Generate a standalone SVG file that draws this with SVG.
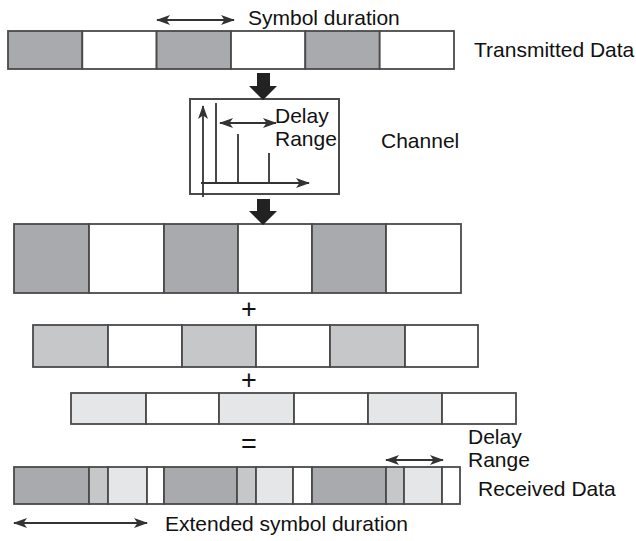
<svg xmlns="http://www.w3.org/2000/svg" width="636" height="541" viewBox="0 0 636 541">
<style>
text{font-family:"Liberation Sans",Arial,sans-serif;font-size:21px;fill:#111}
.op{font-size:27px}
.c{stroke:#4a4a4a;stroke-width:1.8}
.d{fill:#a9aaad}
.m{fill:#c6c7c9}
.l{fill:#e5e6e7}
.w{fill:#fff}
.ln{stroke:#333;stroke-width:1.8;fill:none}
.blk{fill:#222}
</style>
<defs>
<marker id="ah" viewBox="0 0 14 10" refX="13" refY="5" markerWidth="14" markerHeight="10" markerUnits="userSpaceOnUse" orient="auto-start-reverse">
<path d="M0,0 L14,5 L0,10 L3.5,5 z" fill="#333"/>
</marker>
</defs>
<rect width="636" height="541" fill="#fff"/>

<g id="transmitted">
<rect class="c d" x="8" y="31" width="74.3" height="38"/>
<rect class="c w" x="82.3" y="31" width="74.3" height="38"/>
<rect class="c d" x="156.6" y="31" width="74.4" height="38"/>
<rect class="c w" x="231" y="31" width="74.3" height="38"/>
<rect class="c d" x="305.3" y="31" width="74.4" height="38"/>
<rect class="c w" x="379.7" y="31" width="74.3" height="38"/>
<text x="474" y="57">Transmitted Data</text>
</g>

<g id="symbol-duration">
<text x="248" y="25">Symbol duration</text>
</g>

<g id="channel">
<rect x="190" y="99" width="149" height="95" fill="#fff" stroke="#4a4a4a" stroke-width="2"/>
<line class="ln" x1="203" y1="197" x2="203" y2="106" marker-end="url(#ah)"/>
<line class="ln" x1="201" y1="183" x2="309" y2="183" marker-end="url(#ah)"/>
<line class="ln" x1="216" y1="103" x2="216" y2="183"/>
<line class="ln" x1="238" y1="134" x2="238" y2="183"/>
<line class="ln" x1="269" y1="153" x2="269" y2="183"/>
<line class="ln" x1="220" y1="123" x2="276" y2="123" marker-start="url(#ah)" marker-end="url(#ah)"/>
<text x="275" y="123">Delay</text>
<text x="275" y="146">Range</text>
<text x="381" y="148">Channel</text>
</g>

<g id="received-1">
<rect class="c d" x="14" y="224" width="75" height="69"/>
<rect class="c w" x="89" y="224" width="75" height="69"/>
<rect class="c d" x="164" y="224" width="74" height="69"/>
<rect class="c w" x="238" y="224" width="74" height="69"/>
<rect class="c d" x="312" y="224" width="74" height="69"/>
<rect class="c w" x="386" y="224" width="75" height="69"/>
</g>

<g id="plus-1"><text class="op" x="249" y="318" text-anchor="middle">+</text></g>

<g id="received-2">
<rect class="c m" x="33" y="325" width="75" height="42"/>
<rect class="c w" x="108" y="325" width="74" height="42"/>
<rect class="c m" x="182" y="325" width="74" height="42"/>
<rect class="c w" x="256" y="325" width="74" height="42"/>
<rect class="c m" x="330" y="325" width="75" height="42"/>
<rect class="c w" x="405" y="325" width="73" height="42"/>
</g>

<g id="plus-2"><text class="op" x="249" y="389" text-anchor="middle">+</text></g>

<g id="received-3">
<rect class="c l" x="71" y="393" width="75" height="31"/>
<rect class="c w" x="146" y="393" width="73" height="31"/>
<rect class="c l" x="219" y="393" width="75" height="31"/>
<rect class="c w" x="294" y="393" width="74" height="31"/>
<rect class="c l" x="368" y="393" width="74" height="31"/>
<rect class="c w" x="442" y="393" width="74" height="31"/>
</g>

<g id="equals"><text class="op" x="249" y="453" text-anchor="middle">=</text></g>

<g id="delay-range-label">
<text x="468" y="444">Delay</text>
<text x="468" y="467">Range</text>
</g>

<g id="received-sum">
<rect class="c d" x="14" y="467" width="75" height="37"/>
<rect class="c m" x="89" y="467" width="19" height="37"/>
<rect class="c l" x="108" y="467" width="39" height="37"/>
<rect class="c w" x="147" y="467" width="17" height="37"/>
<rect class="c d" x="164" y="467" width="73" height="37"/>
<rect class="c m" x="237" y="467" width="19" height="37"/>
<rect class="c l" x="256" y="467" width="37" height="37"/>
<rect class="c w" x="293" y="467" width="19" height="37"/>
<rect class="c d" x="312" y="467" width="74" height="37"/>
<rect class="c m" x="386" y="467" width="18" height="37"/>
<rect class="c l" x="404" y="467" width="38" height="37"/>
<rect class="c w" x="442" y="467" width="18" height="37"/>
<text x="478" y="496">Received Data</text>
</g>

<g id="extended">
<text x="165" y="531">Extended symbol duration</text>
</g>

<g id="connectors">
<line class="ln" x1="157" y1="20" x2="234" y2="20" marker-start="url(#ah)" marker-end="url(#ah)"/>
<path class="blk" d="M257,73 H270 V86 H277 L263,100 L249,86 H257 Z"/>
<path class="blk" d="M257,199 H270 V211 H277 L263,225 L249,211 H257 Z"/>
<line class="ln" x1="386" y1="460" x2="443" y2="460" marker-start="url(#ah)" marker-end="url(#ah)"/>
<line class="ln" x1="14" y1="523" x2="147" y2="523" marker-start="url(#ah)" marker-end="url(#ah)"/>
</g>
</svg>
